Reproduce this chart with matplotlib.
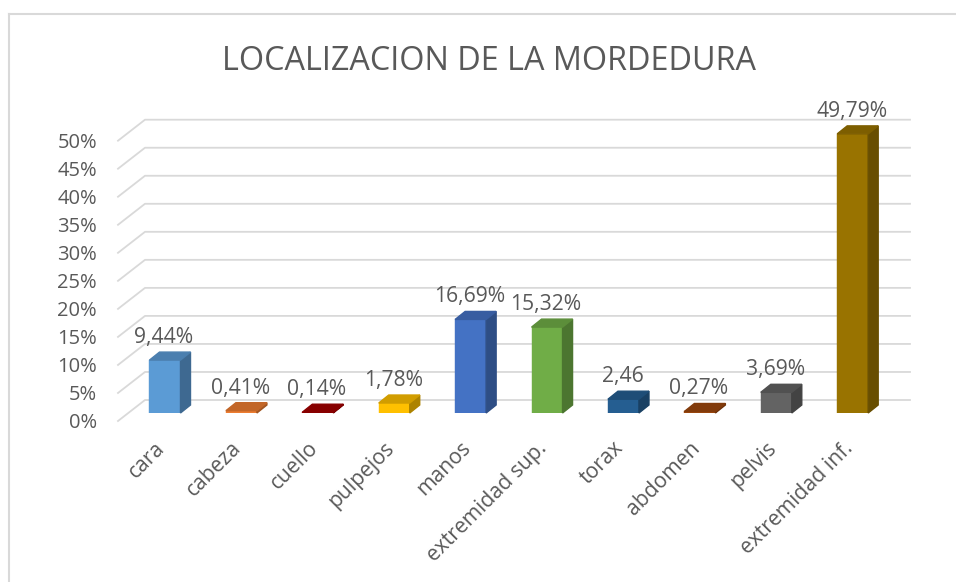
import numpy as np
import matplotlib
matplotlib.use("Agg")
import matplotlib.pyplot as plt
from matplotlib.patches import Polygon
from matplotlib.lines import Line2D
from matplotlib.colors import to_rgb

plt.rcParams['font.family'] = ['Open Sans', 'DejaVu Sans']

# datos del grafico
categorias = ['cara', 'cabeza', 'cuello', 'pulpejos', 'manos', 'extremidad sup.',
              'torax', 'abdomen', 'pelvis', 'extremidad inf.']
porcentajes = [9.44, 0.41, 0.14, 1.78, 16.69, 15.32, 2.46, 0.27, 3.69, 49.79]
etiquetas = ['9,44%', '0,41%', '0,14%', '1,78%', '16,69%', '15,32%', '2,46',
             '0,27%', '3,69%', '49,79%']
colores = ['#5B9BD5', '#ED7D31', '#A50000', '#FFC000', '#4472C4', '#70AD47',
           '#255E91', '#9E480E', '#636363', '#997300']
ticks_y = [0, 5, 10, 15, 20, 25, 30, 35, 40, 45, 50]
ticks_txt = ['0%', '5%', '10%', '15%', '20%', '25%', '30%', '35%', '40%', '45%', '50%']

W, H = 956, 582
gris = '#595959'
linea = '#D9D9D9'

fig = plt.figure(figsize=(W / 100, H / 100), dpi=100)
ax = fig.add_axes([118 / W, (H - 413) / H, (910 - 118) / W, 280.3 / H])
x0, x1 = -0.615, 9.75
ax.set_xlim(x0, x1)
ax.set_ylim(0, 50)
ax.axis('off')

# pixeles -> unidades de datos
px = (x1 - x0) / 792
py = 50 / 280.3

# lineas de la cuadricula (pared del fondo)
for v, t in zip(ticks_y, ticks_txt):
    ax.plot([x0, x0 + 27 * px, x1], [v - 8 * py, v + 13 * py, v + 13 * py],
            color=linea, lw=1.3, zorder=1, clip_on=False)
    ax.text(x0 - 21 * px, v - 15 * py, t, ha='right', va='baseline',
            fontsize=14.5, color=gris)

def oscuro(c, f):
    r, g, b = to_rgb(c)
    return (r * f, g * f, b * f)

# barras 3D
x = np.arange(len(categorias))
w = 31 * px
dx, dy = 10 * px, 8 * py
for xi, v, c, lab in zip(x, porcentajes, colores, etiquetas):
    ax.bar(xi, v, width=w, color=c, zorder=3, edgecolor=oscuro(c, 1.0), lw=0.3)
    lado = [(xi + w / 2, 0), (xi + w / 2 + dx, dy), (xi + w / 2 + dx, v + dy), (xi + w / 2, v)]
    ax.add_patch(Polygon(lado, closed=True, color=oscuro(c, 0.68), zorder=3, clip_on=False))
    tapa = [(xi - w / 2, v), (xi + w / 2, v), (xi + w / 2 + dx, v + dy), (xi - w / 2 + dx, v + dy)]
    ax.add_patch(Polygon(tapa, closed=True, color=oscuro(c, 0.82), zorder=3, clip_on=False))
    ax.text(xi - 1 * px, v + 17 * py, lab, ha='center', va='baseline',
            fontsize=15.2, color=gris, clip_on=False)

for xi, cat in zip(x, categorias):
    ax.text(xi - 3 * px, -32 * py, cat, rotation=45, ha='right', va='center',
            rotation_mode='anchor', fontsize=15.2, color=gris)

fig.text(489.5 / W, 1 - 70 / H, 'LOCALIZACION DE LA MORDEDURA', ha='center',
         va='baseline', fontsize=23.3, color=gris)

# marco del grafico
fig.add_artist(Line2D([9 / W, 9 / W], [0, 1 - 14 / H], color=linea, lw=1.5))
fig.add_artist(Line2D([9 / W, 1], [1 - 14 / H, 1 - 14 / H], color=linea, lw=1.5))

fig.savefig('out.png', dpi=100)
